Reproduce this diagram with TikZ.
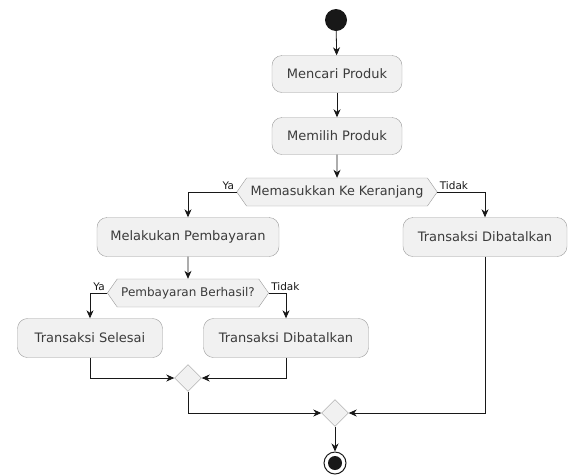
\documentclass[tikz,border=0pt]{standalone}
\usepackage{fontspec}
\setmainfont{DejaVu Sans}
\usetikzlibrary{arrows.meta,shapes.geometric,shapes.symbols}
\definecolor{boxfill}{HTML}{F1F1F1}
\definecolor{boxline}{HTML}{9A9A9A}
\definecolor{ink}{HTML}{181818}
\begin{document}
\begin{tikzpicture}[x=1pt,y=-1pt,
    action/.style={draw=boxline,fill=boxfill,rounded corners=10pt,minimum height=39pt,
      inner xsep=8pt,font=\fontsize{13}{15}\selectfont,text=ink!85},
    choice/.style={draw=boxline,fill=boxfill,signal,signal to=west and east,
      signal pointer angle=110,minimum height=28pt,inner xsep=4pt,
      font=\fontsize{12.8}{14}\selectfont,text=ink!85},
    merge/.style={draw=boxline,fill=boxfill,diamond,minimum size=27pt,inner sep=0pt},
    lbl/.style={font=\fontsize{10.5}{12}\selectfont,text=ink,inner sep=2pt},
    flow/.style={draw=ink,line width=0.8pt,-{Stealth[length=8pt,width=7pt,inset=2.5pt]}}]
  \useasboundingbox (0,0) rectangle (569,475);

  % start and first steps
  \node[circle,fill=ink,minimum size=22pt,inner sep=0pt] (start) at (336,20) {};
  \node[action,minimum width=130pt,minimum height=37pt] (cari) at (337,74) {Mencari Produk};
  \node[action,minimum width=130pt,minimum height=37pt] (pilih) at (337,136) {Memilih Produk};
  \node[choice] (keranjang) at (337,192) {Memasukkan Ke Keranjang};

  % branches
  \node[action,minimum width=182pt] (bayar) at (188,237) {Melakukan Pembayaran};
  \node[action,minimum width=164pt] (batal) at (485,237) {Transaksi Dibatalkan};
  \node[choice,font=\fontsize{12}{14}\selectfont] (berhasil) at (188,293) {Pembayaran Berhasil?};
  \node[action,minimum width=145pt] (selesai) at (90,338) {Transaksi Selesai};
  \node[action,minimum width=165pt] (gagal) at (286,338) {Transaksi Dibatalkan};

  % merges and end
  \node[merge] (gabung1) at (188,378) {};
  \node[merge] (gabung2) at (335,413) {};
  \node[circle,draw=ink,line width=1pt,minimum size=22pt,inner sep=0pt] (stop) at (335,463) {};
  \fill[ink] (stop.center) circle (7);

  \draw[flow] (start) -- (cari);
  \draw[flow] (cari) -- (pilih);
  \draw[flow] (pilih) -- (keranjang);
  \draw[flow] (keranjang.west) node[lbl,above left] {Ya} -| (bayar);
  \draw[flow] (keranjang.east) node[lbl,above right] {Tidak} -| (batal);
  \draw[flow] (bayar) -- (berhasil);
  \draw[flow] (berhasil.west) node[lbl,above left] {Ya} -| (selesai);
  \draw[flow] (berhasil.east) node[lbl,above right] {Tidak} -| (gagal);
  \draw[flow] (selesai.south) |- (gabung1.west);
  \draw[flow] (gagal.south) |- (gabung1.east);
  \draw[flow] (gabung1.south) |- (gabung2.west);
  \draw[flow] (batal.south) |- (gabung2.east);
  \draw[flow] (gabung2) -- (stop);
\end{tikzpicture}
\end{document}
